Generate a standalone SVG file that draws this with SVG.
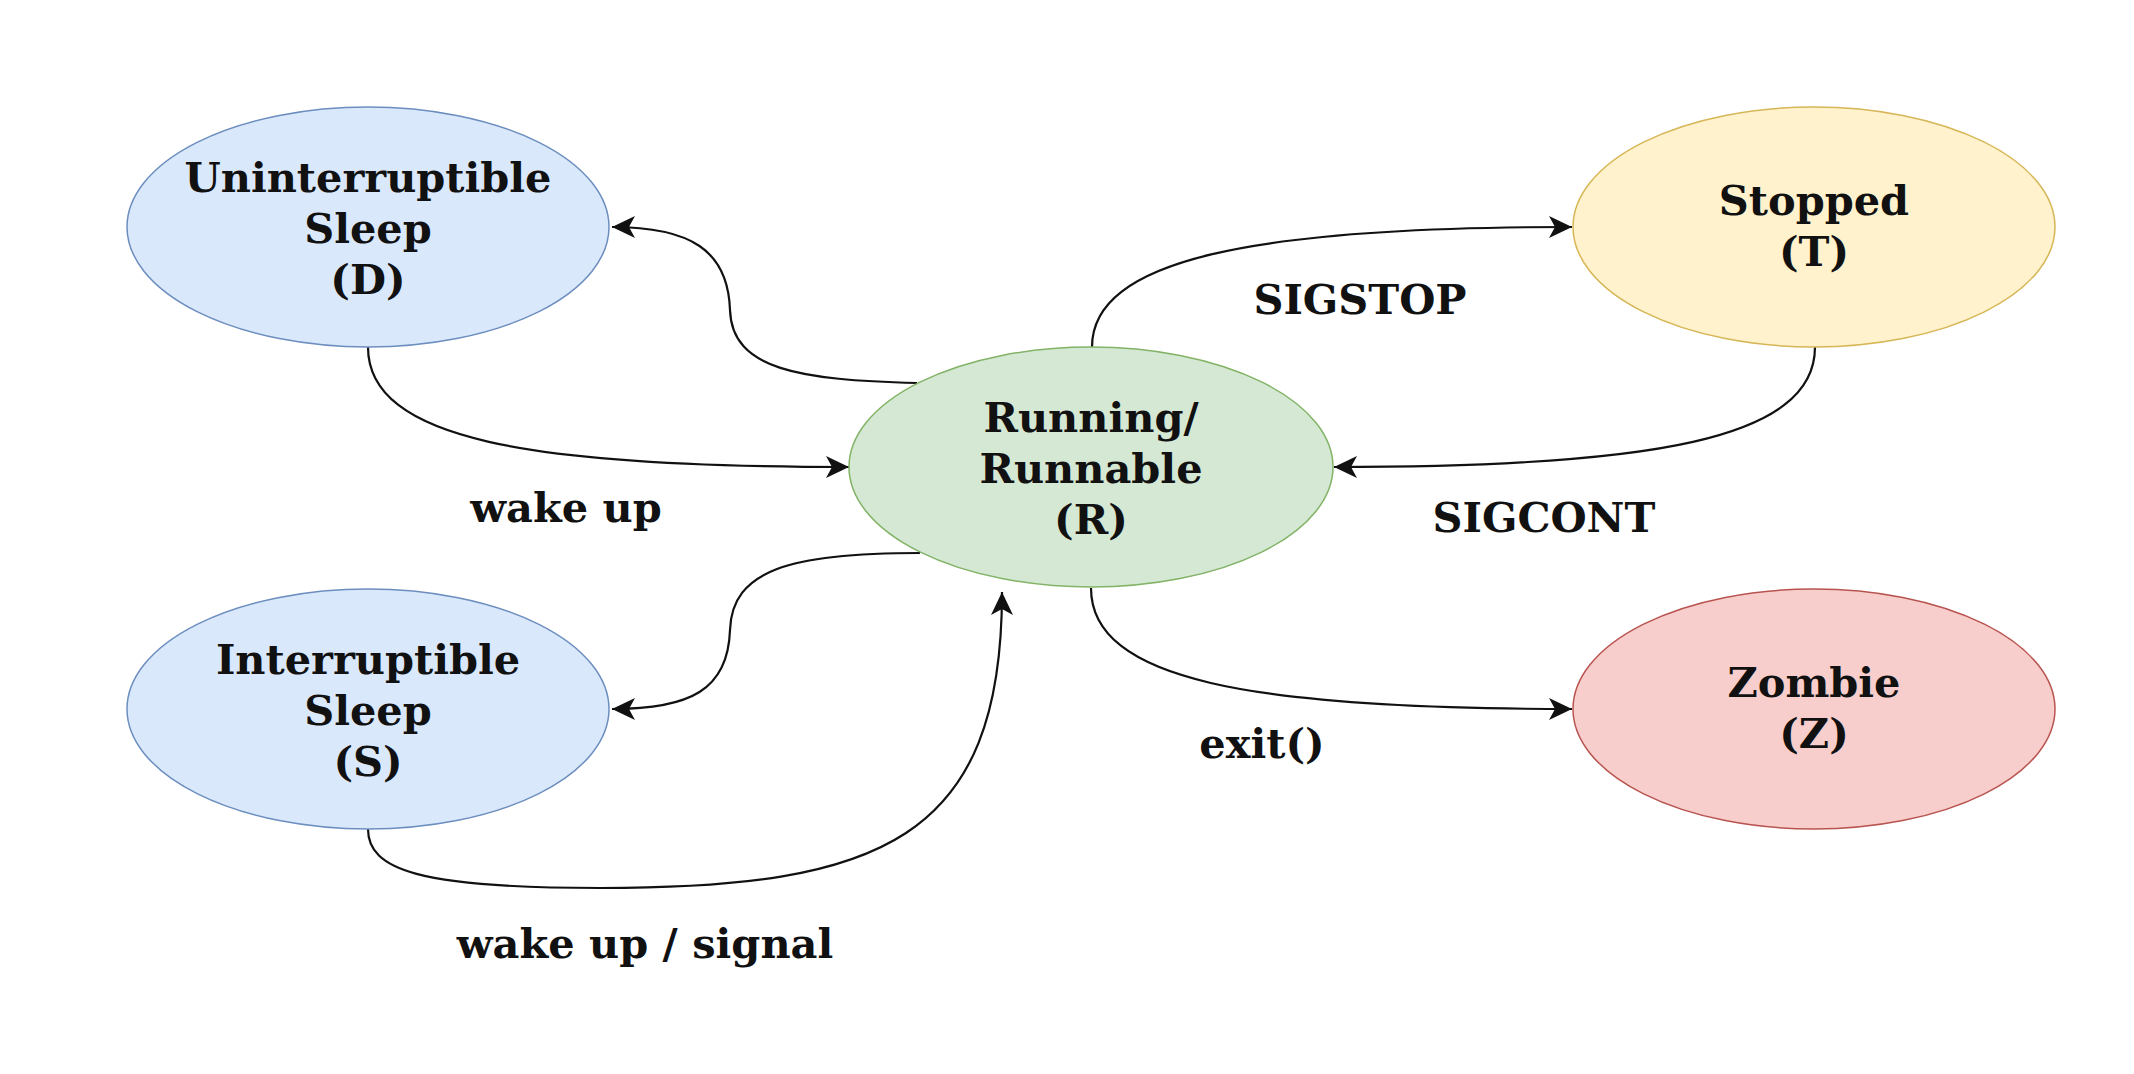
<svg xmlns="http://www.w3.org/2000/svg" width="2134" height="1074" viewBox="0 0 2134 1074">
<style>
text{font-family:"DejaVu Serif","Liberation Serif",serif;font-weight:bold;font-size:41.5px;fill:#111;text-anchor:middle}
.e{stroke-width:1.5}
.blue{fill:#dae8fc;stroke:#6c8ebf}
.green{fill:#d5e8d4;stroke:#82b366}
.yellow{fill:#fff2cc;stroke:#d6b656}
.red{fill:#f8cecc;stroke:#b85450}
.c{fill:none;stroke:#111;stroke-width:2.2;marker-end:url(#arr)}
</style>
<defs>
<marker id="arr" markerUnits="userSpaceOnUse" viewBox="-26 -15 30 30" refX="0" refY="0" markerWidth="30" markerHeight="30" orient="auto">
<path d="M0,0 L-23,-11 L-17,0 L-23,11 Z" fill="#111"/>
</marker>
</defs>
<rect width="2134" height="1074" fill="#fff"/>
<g id="connectors">
<path class="c" d="M917 383 C800 380 732 370 730 310 C728 250 690 227 612 227"/>
<path class="c" d="M368 347 C368 440 530 467 849 467"/>
<path class="c" d="M920 553 C790 553 732 570 730 630 C728 690 690 709 612 709"/>
<path class="c" d="M368 829 C368 870 420 888 600 888 C880 888 1002 840 1002 592"/>
<path class="c" d="M1092 347 C1092 260 1250 227 1572 227"/>
<path class="c" d="M1815 347 C1815 440 1650 467 1334 467"/>
<path class="c" d="M1091 588 C1091 680 1250 709 1572 709"/>
<text x="566" y="522">wake up</text>
<text x="645" y="958">wake up / signal</text>
<text x="1360" y="314">SIGSTOP</text>
<text x="1544" y="532">SIGCONT</text>
<text x="1262" y="758">exit()</text>
</g>
<g id="node-D">
<ellipse class="e blue" cx="368" cy="227" rx="241" ry="120"/>
<text x="368" y="192">Uninterruptible</text>
<text x="368" y="243">Sleep</text>
<text x="368" y="294">(D)</text>
</g>
<g id="node-S">
<ellipse class="e blue" cx="368" cy="709" rx="241" ry="120"/>
<text x="368" y="674">Interruptible</text>
<text x="368" y="725">Sleep</text>
<text x="368" y="776">(S)</text>
</g>
<g id="node-R">
<ellipse class="e green" cx="1091" cy="467" rx="242" ry="120"/>
<text x="1091" y="432">Running/</text>
<text x="1091" y="483">Runnable</text>
<text x="1091" y="534">(R)</text>
</g>
<g id="node-T">
<ellipse class="e yellow" cx="1814" cy="227" rx="241" ry="120"/>
<text x="1814" y="215">Stopped</text>
<text x="1814" y="266">(T)</text>
</g>
<g id="node-Z">
<ellipse class="e red" cx="1814" cy="709" rx="241" ry="120"/>
<text x="1814" y="697">Zombie</text>
<text x="1814" y="748">(Z)</text>
</g>
</svg>
